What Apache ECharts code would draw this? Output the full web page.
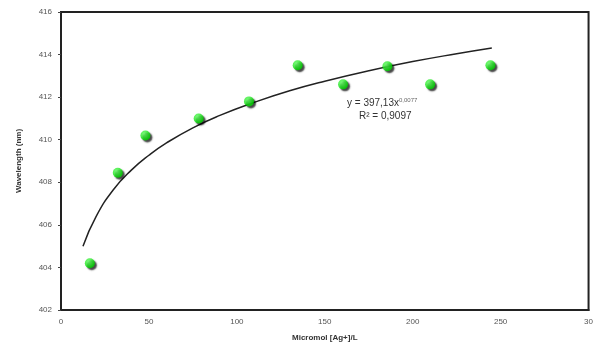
<!DOCTYPE html>
<html>
<head>
<meta charset="utf-8">
<script src="https://cdn.jsdelivr.net/npm/echarts@6/dist/echarts.min.js"></script>
<style>
  html, body { margin: 0; padding: 0; background: #fff; }
  #chart { width: 596px; height: 348px; }
</style>
</head>
<body>
<div id="chart"></div>
<script>
// measured points: micromol Ag+ / L vs wavelength (nm)
var concX = [16.4, 32.3, 48.0, 78.3, 106.9, 134.6, 160.4, 185.6, 209.9, 244.2];
var waveY = [404.2, 408.45, 410.2, 411.0, 411.8, 413.5, 412.6, 413.45, 412.6, 413.5];

// trend line
var trendX = [12.5, 20, 30, 40, 50, 60, 75, 90, 110, 130, 150, 175, 200, 225, 245];
var trendY = [405.0, 406.4, 407.67, 408.57, 409.27, 409.85, 410.56, 411.13, 411.76, 412.3, 412.75, 413.24, 413.67, 414.04, 414.31];

var xTicks = ['0', '50', '100', '150', '200', '250', '30'];
var yTicks = ['402', '404', '406', '408', '410', '412', '414', '416'];

var pts = concX.map(function (x, i) { return [x, waveY[i]]; });
var trend = trendX.map(function (x, i) { return [x, trendY[i]]; });

var font = 'Liberation Sans, Arial, sans-serif';

var myChart = echarts.init(document.getElementById('chart'));
var option = {
  animation: false,
  grid: {
    left: 61,
    right: 5,
    top: 12,
    bottom: 38,
    show: true,
    borderColor: '#222',
    borderWidth: 2
  },
  xAxis: {
    type: 'value',
    min: 0,
    max: 300,
    interval: 50,
    name: 'Micromol [Ag+]/L',
    nameLocation: 'middle',
    nameGap: 24,
    nameTextStyle: { color: '#333', fontSize: 8, fontWeight: 'bold', fontFamily: font },
    axisLine: { show: true, lineStyle: { color: '#222', width: 2 } },
    axisTick: { show: false },
    splitLine: { show: false },
    axisLabel: {
      color: '#555',
      fontSize: 8,
      fontFamily: font,
      margin: 8,
      formatter: function (v) { return xTicks[Math.round(v / 50)]; }
    }
  },
  yAxis: {
    type: 'value',
    min: 402,
    max: 416,
    interval: 2,
    name: 'Wavelength (nm)',
    nameLocation: 'middle',
    nameGap: 38,
    nameTextStyle: { color: '#333', fontSize: 8, fontWeight: 'bold', fontFamily: font },
    axisLine: { show: true, lineStyle: { color: '#222', width: 2 } },
    axisTick: { show: true, length: 3, lineStyle: { color: '#444' } },
    splitLine: { show: false },
    axisLabel: {
      color: '#555',
      fontSize: 8,
      fontFamily: font,
      margin: 9,
      formatter: function (v) { return yTicks[Math.round((v - 402) / 2)]; }
    }
  },
  series: [{
      // trend line
      type: 'line',
      data: trend,
      smooth: true,
      showSymbol: false,
      lineStyle: { color: '#222', width: 1.5 },
      silent: true,
      z: 2
    },
    {
      // green dots
      type: 'scatter',
      data: pts,
      symbolSize: 10,
      itemStyle: {
        color: {
          type: 'radial', x: 0.4, y: 0.35, r: 0.6,
          colorStops: [{ offset: 0, color: '#66ff66' }, { offset: 1, color: '#00dd00' }]
        },
        shadowColor: 'rgba(0,0,0,0.9)',
        shadowBlur: 1.5,
        shadowOffsetX: 2,
        shadowOffsetY: 2
      },
      z: 3
    }
  ],
  graphic: [{
    type: 'text',
    left: 347,
    top: 97,
    style: {
      text: '{a|y = 397,13x}{s|0,0077}\n{b|R² = 0,9097}',
      rich: {
        a: { fontSize: 10, fill: '#333', fontFamily: font, lineHeight: 13 },
        s: { fontSize: 6, fill: '#666', fontFamily: font, verticalAlign: 'top', padding: [0, 0, 6, 0] },
        b: { fontSize: 10, fill: '#333', fontFamily: font, lineHeight: 13, padding: [0, 0, 0, 12] }
      }
    }
  }]
};
myChart.setOption(option);
</script>
</body>
</html>
